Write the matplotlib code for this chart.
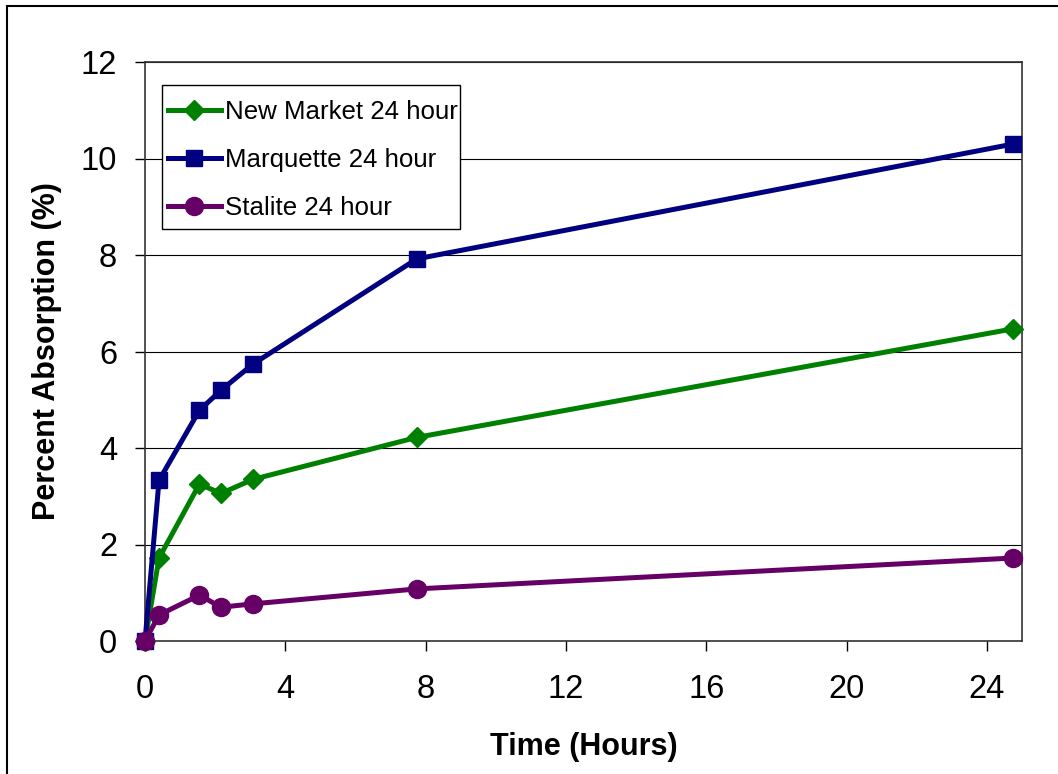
import matplotlib.pyplot as plt
from matplotlib.patches import Rectangle

# time in hours and percent absorption of each aggregate
hours = [0, 0.4, 1.55, 2.17, 3.08, 7.75, 24.75]
new_market = [0, 1.72, 3.25, 3.06, 3.35, 4.22, 6.47]
marquette = [0, 3.33, 4.78, 5.2, 5.74, 7.92, 10.3]
stalite = [0, 0.54, 0.95, 0.7, 0.77, 1.08, 1.72]

plt.rcParams['font.family'] = ['Liberation Sans', 'DejaVu Sans']

W, H = 1058, 774
fig = plt.figure(figsize=(W / 100, H / 100), dpi=100)
# plot area in pixels: left 145, top 62, right 1022, bottom 641
ax = fig.add_axes([145 / W, 1 - 641 / H, 877 / W, 579 / H])

def px(x, y):
    # pixel position -> axes fraction
    return (x - 145) / 877, 1 - (y - 62) / 579

# black frame round the figure (right/bottom edges run off the picture)
fig.patches.append(Rectangle((7 / W, -0.05), 1.1, 1 - 6 / H + 0.05,
                             transform=fig.transFigure, fill=False,
                             edgecolor='black', linewidth=1.5, clip_on=False))

ax.plot(hours, new_market, color='#008000', lw=3.6, marker='D', ms=10,
        label='New Market 24 hour', clip_on=False, zorder=3)
ax.plot(hours, marquette, color='#000080', lw=3.6, marker='s', ms=11,
        label='Marquette 24 hour', clip_on=False, zorder=3)
ax.plot(hours, stalite, color='#660066', lw=3.6, marker='o', ms=13,
        label='Stalite 24 hour', clip_on=False, zorder=3)

ax.set_xlim(0, 25)
ax.set_ylim(0, 12)
ax.set_xticks(range(0, 25, 4))
ax.set_yticks(range(0, 13, 2))
ax.yaxis.grid(True, color='black', lw=0.8)
ax.set_axisbelow(True)
ax.tick_params(direction='out', length=7, width=1, labelsize=23.5)
ax.tick_params(axis='x', pad=17)
ax.tick_params(axis='y', pad=13)
for s in ax.spines.values():
    s.set_linewidth(1.2)
    s.set_color('#333333')

ax.set_xlabel('Time (Hours)', fontsize=22, fontweight='bold', labelpad=19)
ax.set_ylabel('Percent Absorption (%)', fontsize=22, fontweight='bold', labelpad=13.5)

# legend box drawn by hand: the text sits close to the right border
bx0, by0 = px(162, 229)
bx1, by1 = px(460, 85)
ax.add_patch(Rectangle((bx0, by0), bx1 - bx0, by1 - by0, transform=ax.transAxes,
                       facecolor='white', edgecolor='black', lw=1, zorder=4))
leg = ax.legend(loc='upper left', bbox_to_anchor=px(168, 100),
                fontsize=18.6, frameon=False, handlelength=2.05,
                handletextpad=0.15, borderpad=0, labelspacing=0.93,
                borderaxespad=0)
leg.set_zorder(5)

fig.savefig('out.png', dpi=100)
